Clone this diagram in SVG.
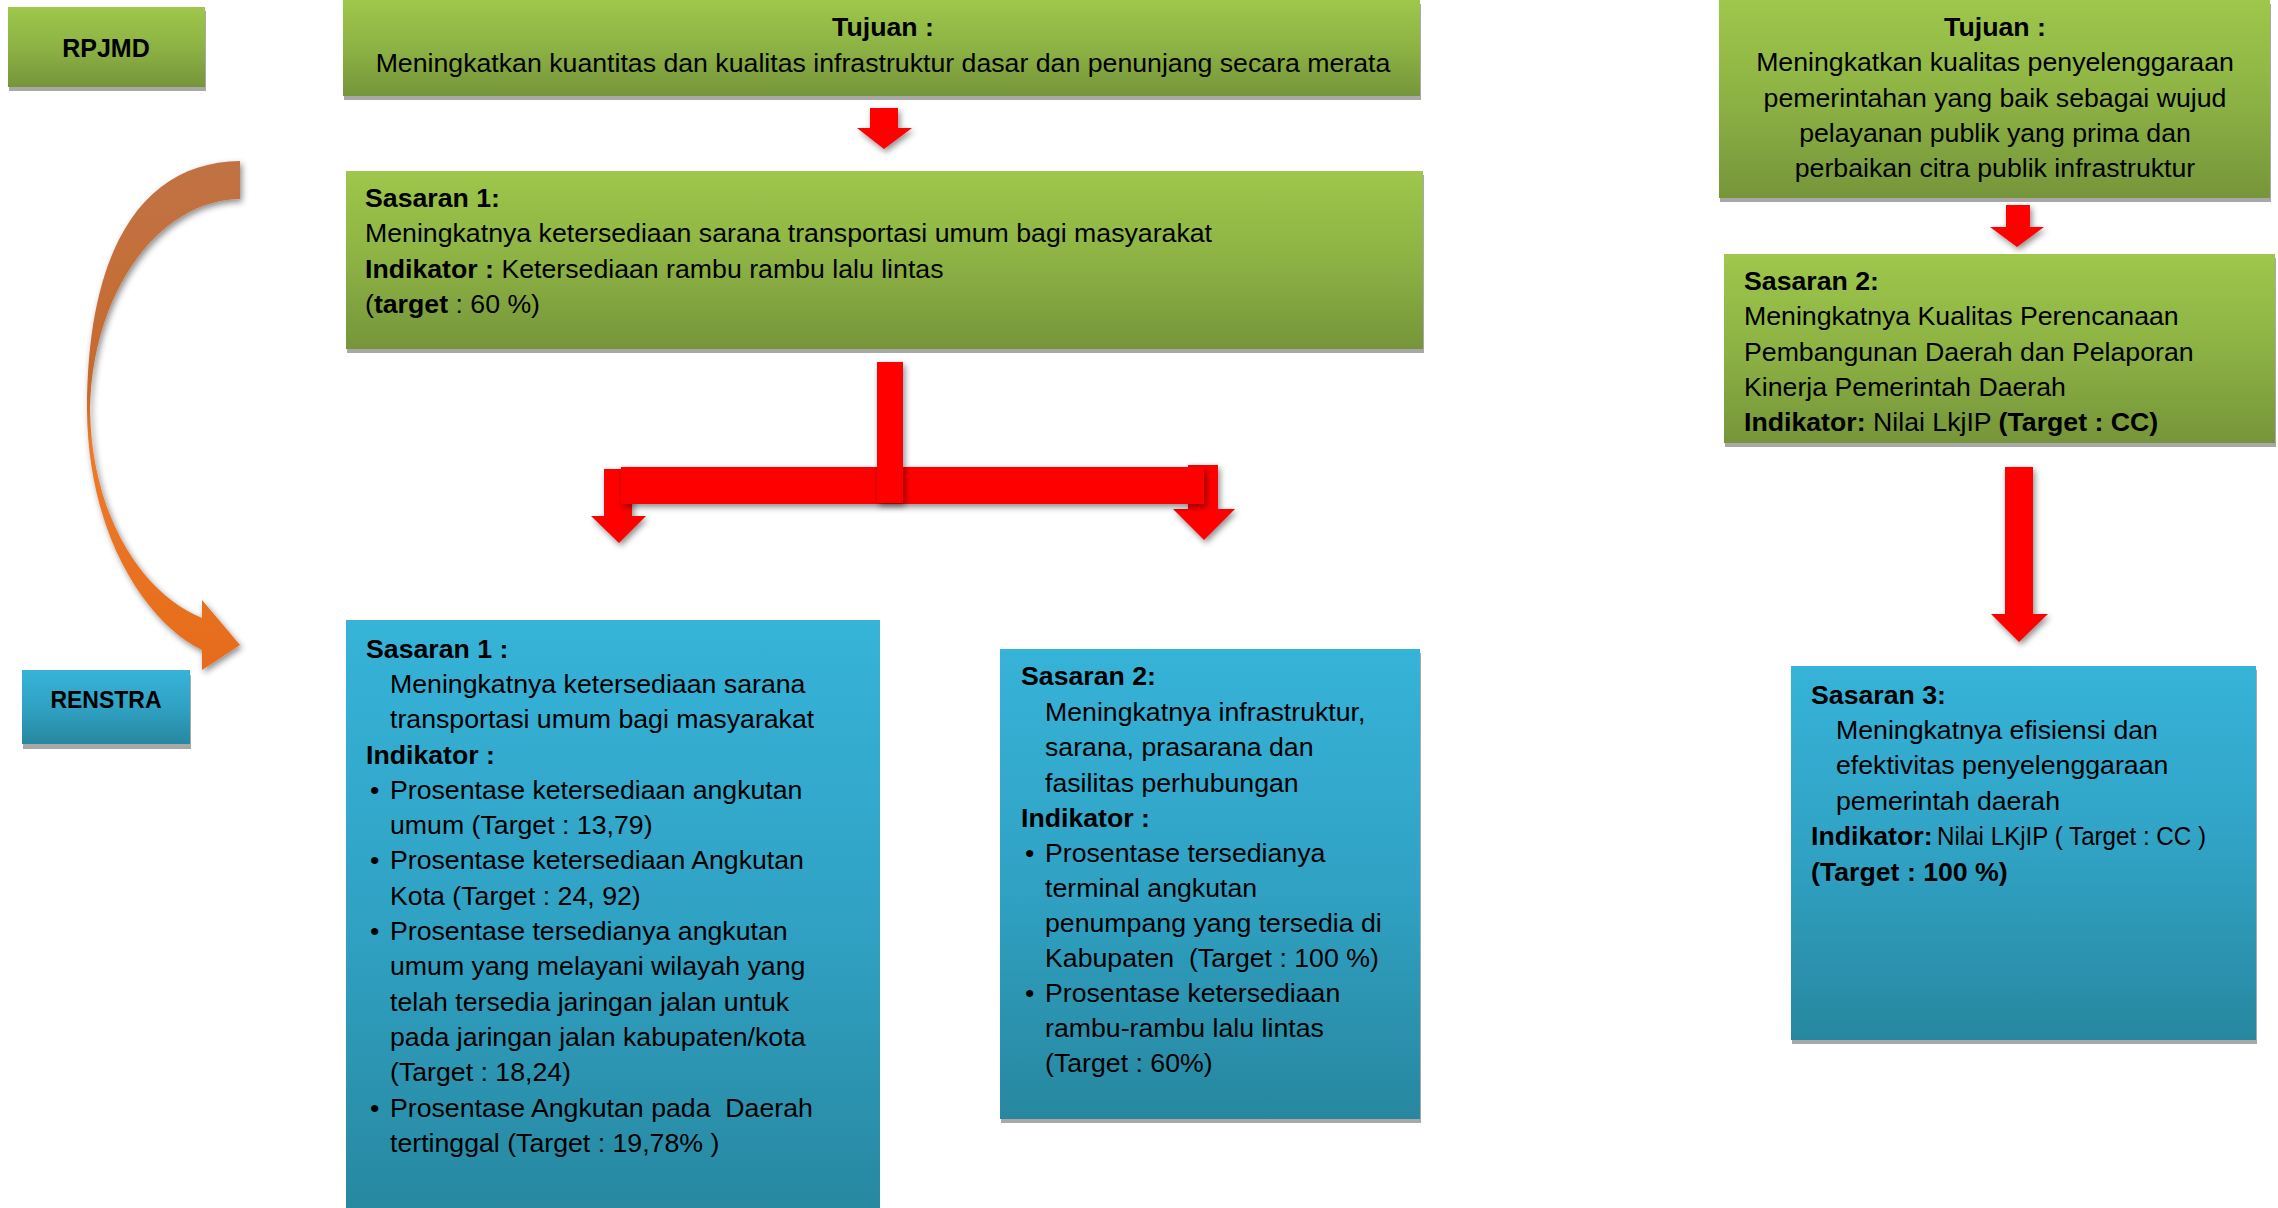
<svg xmlns="http://www.w3.org/2000/svg" width="2278" height="1208" viewBox="0 0 2278 1208">
<defs>
  <linearGradient id="gGreen" x1="0" y1="0" x2="0" y2="1">
    <stop offset="0" stop-color="#9EC74B"/>
    <stop offset="0.5" stop-color="#8DB244"/>
    <stop offset="1" stop-color="#76953A"/>
  </linearGradient>
  <linearGradient id="gBlue" x1="0" y1="0" x2="0" y2="1">
    <stop offset="0" stop-color="#36B3D8"/>
    <stop offset="0.5" stop-color="#30A2C4"/>
    <stop offset="1" stop-color="#27879F"/>
  </linearGradient>
  <linearGradient id="gOrange" gradientUnits="userSpaceOnUse" x1="0" y1="161" x2="0" y2="678">
    <stop offset="0" stop-color="#C07245"/>
    <stop offset="0.45" stop-color="#C86A2C"/>
    <stop offset="0.55" stop-color="#EE7A2A"/>
    <stop offset="1" stop-color="#E46B1A"/>
  </linearGradient>
  <filter id="shadow" x="-20%" y="-20%" width="150%" height="150%">
    <feDropShadow dx="2" dy="3" stdDeviation="3" flood-color="#000" flood-opacity="0.45"/>
  </filter>
  <style>
    text { font-family: "Liberation Sans", Arial, sans-serif; fill: #000; white-space: pre; }
    .t { font-size: 26.7px; }
    .b { font-weight: bold; }
    .c { text-anchor: middle; }
    .lbl { font-size: 25px; font-weight: bold; text-anchor: middle; }
    .green { fill: url(#gGreen); }
    .blue { fill: url(#gBlue); }
    .sh { fill: #A8A8A8; }
    .arrow { fill: #FF0000; filter: url(#shadow); }
  </style>
</defs>
<rect width="2278" height="1208" fill="#FFFFFF"/>

<!-- connectors -->
<g id="connectors">
  <path id="curved-arrow" d="M240,161 C145,162 87,245 87,410 C88,540 150,625 202,650 L202,670 L240,645 L202,600 L202,618 C145,595 92,520 90,410 C92,290 160,200 240,199 Z" fill="url(#gOrange)" filter="url(#shadow)"/>
  <path class="arrow" d="M870,108 H898 V128 H912 L884,149 L857,128 H870 Z"/>
  <path class="arrow" d="M604,469 H632 V516 H646 L619,543 L591,516 H604 Z"/>
  <path class="arrow" d="M1188,465 H1218 V509 H1235 L1204,540 L1173,509 H1188 Z"/>
  <rect class="arrow" x="621" y="467" width="583" height="37"/>
  <rect class="arrow" x="877" y="362" width="26" height="141"/>
  <path class="arrow" d="M2006,205 H2030 V227 H2044 L2017,247 L1990,227 H2006 Z"/>
  <path class="arrow" d="M2005,467 H2033 V614 H2048 L2019,642 L1991,614 H2005 Z"/>
</g>

<!-- RPJMD -->
<g id="rpjmd">
  <rect class="sh" x="9" y="11" width="197" height="80"/>
  <rect class="green" x="8" y="7" width="197" height="80"/>
  <text class="lbl" x="106" y="57">RPJMD</text>
</g>

<!-- RENSTRA -->
<g id="renstra">
  <rect class="sh" x="23" y="675" width="168" height="74"/>
  <rect class="blue" x="22" y="670" width="168" height="74"/>
  <text class="lbl" x="106" y="708" style="font-size:23px">RENSTRA</text>
</g>

<!-- Tujuan top -->
<g id="tujuan-1">
  <rect class="sh" x="344" y="4" width="1077" height="96"/>
  <rect class="green" x="343" y="0" width="1077" height="96"/>
  <text class="t b c" x="883" y="36">Tujuan :</text>
  <text class="t c" x="883" y="72">Meningkatkan kuantitas dan kualitas infrastruktur dasar dan penunjang secara merata</text>
</g>

<!-- Sasaran 1 RPJMD -->
<g id="rpjmd-sasaran-1">
  <rect class="sh" x="347" y="175" width="1077" height="178"/>
  <rect class="green" x="346" y="171" width="1077" height="178"/>
  <text class="t b" x="365" y="207">Sasaran 1:</text>
  <text class="t" x="365" y="242">Meningkatnya ketersediaan sarana transportasi umum bagi masyarakat</text>
  <text class="t" x="365" y="278"><tspan class="b">Indikator :</tspan> Ketersediaan rambu rambu lalu lintas</text>
  <text class="t" x="365" y="313">(<tspan class="b">target</tspan> : 60 %)</text>
</g>

<!-- Tujuan right -->
<g id="tujuan-2">
  <rect class="sh" x="1720" y="4" width="551" height="198"/>
  <rect class="green" x="1719" y="0" width="551" height="198"/>
  <text class="t b c" x="1995" y="36">Tujuan :</text>
  <text class="t c" x="1995" y="71">Meningkatkan kualitas penyelenggaraan</text>
  <text class="t c" x="1995" y="107">pemerintahan yang baik sebagai wujud</text>
  <text class="t c" x="1995" y="142">pelayanan publik yang prima dan</text>
  <text class="t c" x="1995" y="177">perbaikan citra publik infrastruktur</text>
</g>

<!-- Sasaran 2 RPJMD -->
<g id="rpjmd-sasaran-2">
  <rect class="sh" x="1725" y="258" width="551" height="189"/>
  <rect class="green" x="1724" y="254" width="551" height="189"/>
  <text class="t b" x="1744" y="290">Sasaran 2:</text>
  <text class="t" x="1744" y="325">Meningkatnya Kualitas Perencanaan</text>
  <text class="t" x="1744" y="361">Pembangunan Daerah dan Pelaporan</text>
  <text class="t" x="1744" y="396">Kinerja Pemerintah Daerah</text>
  <text class="t" x="1744" y="431"><tspan class="b">Indikator:</tspan> Nilai LkjIP <tspan class="b">(Target : CC)</tspan></text>
</g>

<!-- Renstra Sasaran 1 -->
<g id="renstra-sasaran-1">
  <rect class="blue" x="346" y="620" width="534" height="600"/>
  <text class="t b" x="366" y="658">Sasaran 1 :</text>
  <text class="t" x="390" y="693">Meningkatnya ketersediaan sarana</text>
  <text class="t" x="390" y="728">transportasi umum bagi masyarakat</text>
  <text class="t b" x="366" y="764">Indikator :</text>
  <text class="t" x="370" y="799">•</text>
  <text class="t" x="390" y="799">Prosentase ketersediaan angkutan</text>
  <text class="t" x="390" y="834">umum (Target : 13,79)</text>
  <text class="t" x="370" y="869">•</text>
  <text class="t" x="390" y="869">Prosentase ketersediaan Angkutan</text>
  <text class="t" x="390" y="905">Kota (Target : 24, 92)</text>
  <text class="t" x="370" y="940">•</text>
  <text class="t" x="390" y="940">Prosentase tersedianya angkutan</text>
  <text class="t" x="390" y="975">umum yang melayani wilayah yang</text>
  <text class="t" x="390" y="1011">telah tersedia jaringan jalan untuk</text>
  <text class="t" x="390" y="1046">pada jaringan jalan kabupaten/kota</text>
  <text class="t" x="390" y="1081">(Target : 18,24)</text>
  <text class="t" x="370" y="1117">•</text>
  <text class="t" x="390" y="1117">Prosentase Angkutan pada  Daerah</text>
  <text class="t" x="390" y="1152">tertinggal (Target : 19,78% )</text>
</g>

<!-- Renstra Sasaran 2 -->
<g id="renstra-sasaran-2">
  <rect class="sh" x="1001" y="653" width="420" height="470"/>
  <rect class="blue" x="1000" y="649" width="420" height="470"/>
  <text class="t b" x="1021" y="685">Sasaran 2:</text>
  <text class="t" x="1045" y="721">Meningkatnya infrastruktur,</text>
  <text class="t" x="1045" y="756">sarana, prasarana dan</text>
  <text class="t" x="1045" y="792">fasilitas perhubungan</text>
  <text class="t b" x="1021" y="827">Indikator :</text>
  <text class="t" x="1025" y="862">•</text>
  <text class="t" x="1045" y="862">Prosentase tersedianya</text>
  <text class="t" x="1045" y="897">terminal angkutan</text>
  <text class="t" x="1045" y="932">penumpang yang tersedia di</text>
  <text class="t" x="1045" y="967">Kabupaten  (Target : 100 %)</text>
  <text class="t" x="1025" y="1002">•</text>
  <text class="t" x="1045" y="1002">Prosentase ketersediaan</text>
  <text class="t" x="1045" y="1037">rambu-rambu lalu lintas</text>
  <text class="t" x="1045" y="1072">(Target : 60%)</text>
</g>

<!-- Renstra Sasaran 3 -->
<g id="renstra-sasaran-3">
  <rect class="sh" x="1792" y="670" width="465" height="374"/>
  <rect class="blue" x="1791" y="666" width="465" height="374"/>
  <text class="t b" x="1811" y="704">Sasaran 3:</text>
  <text class="t" x="1836" y="739">Meningkatnya efisiensi dan</text>
  <text class="t" x="1836" y="774">efektivitas penyelenggaraan</text>
  <text class="t" x="1836" y="810">pemerintah daerah</text>
  <text class="t b" x="1811" y="845">Indikator:</text>
  <text class="t" x="1937" y="845" textLength="269" lengthAdjust="spacingAndGlyphs">Nilai LKjIP ( Target : CC )</text>
  <text class="t b" x="1811" y="881">(Target : 100 %)</text>
</g>
</svg>
